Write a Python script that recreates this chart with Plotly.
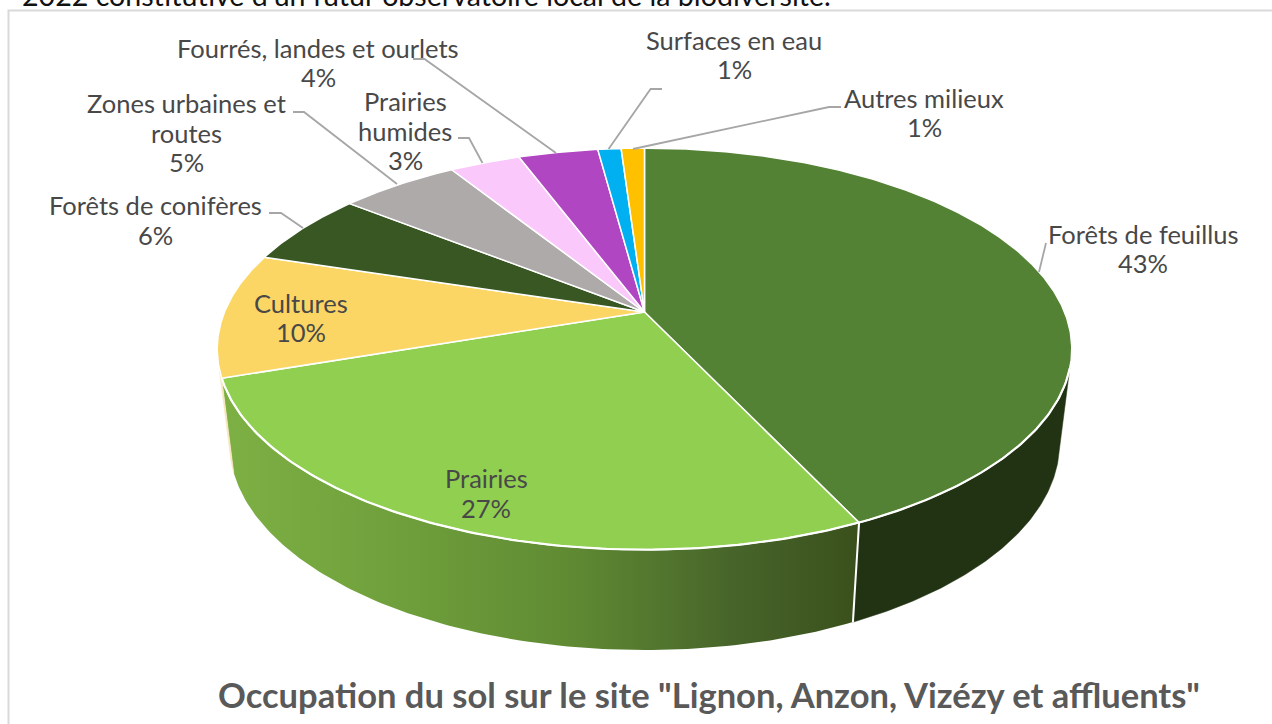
import numpy as np
import plotly.graph_objects as go

# ---- data -------------------------------------------------------------
categories = ["Forêts de feuillus", "Prairies", "Cultures", "Forêts de conifères",
              "Zones urbaines et<br>routes", "Prairies<br>humides",
              "Fourrés, landes et ourlets", "Surfaces en eau", "Autres milieux"]
values = [43, 26.8, 10, 5.9, 5.4, 3.2, 3.6, 1.05, 1.05]
percent_labels = ["43%", "27%", "10%", "6%", "5%", "3%", "4%", "1%", "1%"]

slice_colors = ["#548235", "#90CF50", "#FBD665", "#385723", "#AEAAAA",
                "#FBC8FC", "#B146C2", "#00B0F0", "#FFC000"]

label_pos = [(1143, 248.5), (486, 493), (301, 317.5), (155, 220), (186, 132.5),
             (405, 130.5), (318, 62.5), (734, 54.5), (924, 112.5)]

leaders = [
    [(1046, 243), (1039, 272)],
    None,
    None,
    [(269, 213), (281, 213), (303, 228)],
    [(293, 112), (304, 112), (397, 184)],
    [(458, 138), (469, 138), (482.5, 163)],
    [(413, 59), (424.5, 59), (556, 153)],
    [(662, 89), (650.6, 89), (608.6, 149)],
    [(841, 107), (829, 107), (633, 149)],
]

title_text = 'Occupation du sol sur le site "Lignon, Anzon, Vizézy et affluents"'
clipped_text = "2022 constitutive d'un futur observatoire local de la biodiversité."

FONT = "Lato"
TEXT = "#484848"
LINE_STEP = 29.5

# ---- projection of the tilted disc ------------------------------------
CX, CY = 644.5, 312.0
P = 0.184
TOP_A, TOP_B = 420.0, 194.0
BOT_A, BOT_B, BOT_Y = 408.0, 200.0, 405.0


def project(theta, a, b, y0):
    u, v = np.sin(theta), np.cos(theta)
    w = 1 + P * v
    return CX + a * u / w, y0 - b * v / w


def top(theta):
    return project(theta, TOP_A, TOP_B, CY)


def bottom(theta):
    return project(theta, BOT_A, BOT_B, BOT_Y)


total = sum(values)
edges = 2 * np.pi * np.cumsum([0] + values) / total


def wall(t0, t1):
    t = np.linspace(t0, t1, 120)
    xt, yt = top(t)
    xb, yb = bottom(t[::-1])
    return np.r_[xt, xb, xt[0]], np.r_[yt, yb, yt[0]]


fig = go.Figure()

# frame
fig.add_trace(go.Scatter(x=[8.5, 8.5, 1290], y=[730, 10.5, 10.5], mode="lines",
                         line=dict(color="#D9D9D9", width=2), hoverinfo="skip"))

# walls
x, y = wall(edges[1], edges[2])
fig.add_trace(go.Scatter(
    x=x, y=y, mode="lines", fill="toself", line=dict(color="rgba(0,0,0,0)", width=0),
    fillgradient=dict(type="horizontal", colorscale=[
        [0, "#7DB044"], [0.3, "#6E9E3B"], [0.55, "#5F8A33"], [0.8, "#47652A"], [1, "#3A501C"]]),
    hoverinfo="skip"))
x, y = wall(np.radians(106), edges[1])
fig.add_trace(go.Scatter(x=x, y=y, mode="lines", fill="toself", fillcolor="#213312",
                         line=dict(color="#213312", width=0.5), hoverinfo="skip"))
x, y = wall(edges[2], edges[2] + np.radians(3.5))
fig.add_trace(go.Scatter(x=x, y=y, mode="lines", fill="toself", fillcolor="#F6E6BE",
                         line=dict(color="#F6E6BE", width=0.5), hoverinfo="skip"))
# seam between the two walls
sx, sy = zip(top(edges[1]), bottom(edges[1]))
fig.add_trace(go.Scatter(x=sx, y=sy, mode="lines", line=dict(color="white", width=2),
                         hoverinfo="skip"))

# top slices
for i, col in enumerate(slice_colors):
    t = np.linspace(edges[i], edges[i + 1], max(6, int(values[i] * 8)))
    xt, yt = top(t)
    fig.add_trace(go.Scatter(
        x=np.r_[CX, xt, CX], y=np.r_[CY, yt, CY], mode="lines", fill="toself",
        fillcolor=col, line=dict(color="white", width=1.5), name=categories[i],
        hoverinfo="skip"))

# brighter front rim where the top meets the wall
t = np.linspace(np.radians(106), edges[2], 200)
xt, yt = top(t)
fig.add_trace(go.Scatter(x=xt, y=yt, mode="lines", line=dict(color="white", width=2.2),
                         hoverinfo="skip"))

# leader lines
for pts in leaders:
    if pts:
        fig.add_trace(go.Scatter(x=[p[0] for p in pts], y=[p[1] for p in pts], mode="lines",
                                 line=dict(color="#A6A6A6", width=1.8), hoverinfo="skip"))

annotations = []
for cat, pct, (lx, ly) in zip(categories, percent_labels, label_pos):
    lines = cat.split("<br>") + [pct]
    start = ly - LINE_STEP * (len(lines) - 1) / 2
    for k, line in enumerate(lines):
        annotations.append(dict(x=lx, y=start + k * LINE_STEP, xref="x", yref="y", text=line,
                                showarrow=False, xanchor="center", yanchor="middle",
                                font=dict(family=FONT, size=25.5, color=TEXT)))
annotations.append(dict(x=709, y=694.5, xref="x", yref="y", text=f"<b>{title_text}</b>",
                        showarrow=False, xanchor="center", yanchor="middle",
                        font=dict(family=FONT, size=34.5, color="#595959")))
annotations.append(dict(x=20, y=14, xref="x", yref="y", text=clipped_text, showarrow=False,
                        xanchor="left", yanchor="bottom",
                        font=dict(family=FONT, size=28.6, color="#111111")))

fig.update_layout(
    width=1272, height=724, margin=dict(l=0, r=0, t=0, b=0), showlegend=False,
    paper_bgcolor="white", plot_bgcolor="white", annotations=annotations,
    xaxis=dict(range=[0, 1272], visible=False, fixedrange=True),
    yaxis=dict(range=[724, 0], visible=False, fixedrange=True),
)
fig.write_html("out.html", config={"displayModeBar": False},
               post_script="document.body.style.margin='0';document.body.style.overflow='hidden';")
